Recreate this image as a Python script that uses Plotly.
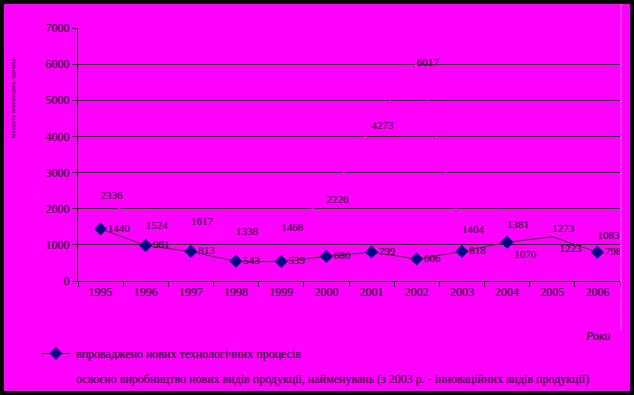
import plotly.graph_objects as go

years = ["1995", "1996", "1997", "1998", "1999", "2000", "2001", "2002", "2003", "2004", "2005", "2006"]
processes = [1440, 981, 813, 543, 539, 680, 799, 606, 818, 1070, 1223, 798]
products = [2336, 1524, 1617, 1338, 1468, 2226, 4273, 6017, 1404, 1381, 1273, 1083]
y_ticks = [0, 1000, 2000, 3000, 4000, 5000, 6000, 7000]

name1 = "впроваджено нових технологічних процесів"
name2 = "освоєно виробництво нових видів продукції, найменувань (з 2003 р. - інноваційних видів продукції)"

MAG = "#ff00ff"
FONT = "Liberation Serif"

fig = go.Figure()

pos2 = ["middle right"] * len(years)
pos2[9] = "top right"
pos2[10] = "top right"
pos2[11] = "top right"
fig.add_trace(go.Scatter(
    x=years, y=products, name=name2, mode="lines+text",
    line=dict(color=MAG, width=1.5),
    text=[str(v) for v in products], textposition=pos2,
    textfont=dict(family=FONT, size=11, color="black"),
    legendgroup="b", legendrank=2,
))

pos1 = ["middle right"] * len(years)
pos1[9] = "bottom right"
pos1[10] = "bottom right"
mopac = [1] * len(years)
mopac[10] = 0
fig.add_trace(go.Scatter(
    x=years, y=processes, name=name1, mode="lines+markers+text",
    line=dict(color="#3a3a3a", width=1),
    marker=dict(symbol="diamond", size=10, color="#000080", opacity=mopac),
    text=[str(v) for v in processes], textposition=pos1,
    textfont=dict(family=FONT, size=11, color="black"),
    legendgroup="a", legendrank=1,
))

W, H = 634, 395
L, R, T, B = 78, 14, 28, 114
pw, ph = W - L - R, H - T - B

def px(x):
    return (x - L) / pw

def py(y):
    return (H - B - y) / ph

fig.update_layout(
    width=W, height=H,
    margin=dict(l=L, r=R, t=T, b=B, autoexpand=False),
    paper_bgcolor=MAG, plot_bgcolor=MAG,
    font=dict(family=FONT, size=12, color="black"),
    showlegend=True,
    legend=dict(
        x=px(36), y=py(339), xanchor="left", yanchor="top",
        bgcolor="rgba(0,0,0,0)", font=dict(family=FONT, size=12, color="black"),
        traceorder="grouped", tracegroupgap=6, itemwidth=30,
    ),
    xaxis=dict(
        type="category", showgrid=False, showline=True, linecolor="black", linewidth=1,
        ticks="outside", tickson="boundaries", ticklen=5, tickcolor="black",
        tickfont=dict(family=FONT, size=12, color="black"), zeroline=False,
        range=[-0.5, 11.5],
    ),
    yaxis=dict(
        range=[0, 7000], tickvals=y_ticks, ticktext=[str(v) for v in y_ticks],
        showgrid=True, gridcolor="black", gridwidth=1,
        showline=True, linecolor="black", linewidth=1,
        ticks="outside", ticklen=5, tickcolor="black",
        tickfont=dict(family=FONT, size=12, color="black"), zeroline=False,
    ),
    annotations=[
        dict(text="Роки", xref="paper", yref="paper", x=px(613), y=py(336),
             xanchor="right", yanchor="middle", showarrow=False,
             font=dict(family=FONT, size=12, color="black", style="italic")),
        dict(text="кількість нововведень, одиниць", xref="paper", yref="paper",
             x=px(13), y=py(98), textangle=-90, xanchor="center", yanchor="middle",
             showarrow=False, font=dict(family=FONT, size=6, color="black")),
    ],
    shapes=[
        dict(type="line", xref="paper", yref="paper", x0=px(621), x1=px(621),
             y0=py(4), y1=py(330), line=dict(color="#ff66ff", width=1)),
        dict(type="rect", xref="paper", yref="paper", x0=px(0), x1=px(W),
             y0=py(0), y1=py(H), line=dict(color="black", width=8), layer="above"),
    ],
)

fig.write_html("out.html", config={"displayModeBar": False},
               post_script="document.body.style.margin='0';document.body.style.overflow='hidden';")
